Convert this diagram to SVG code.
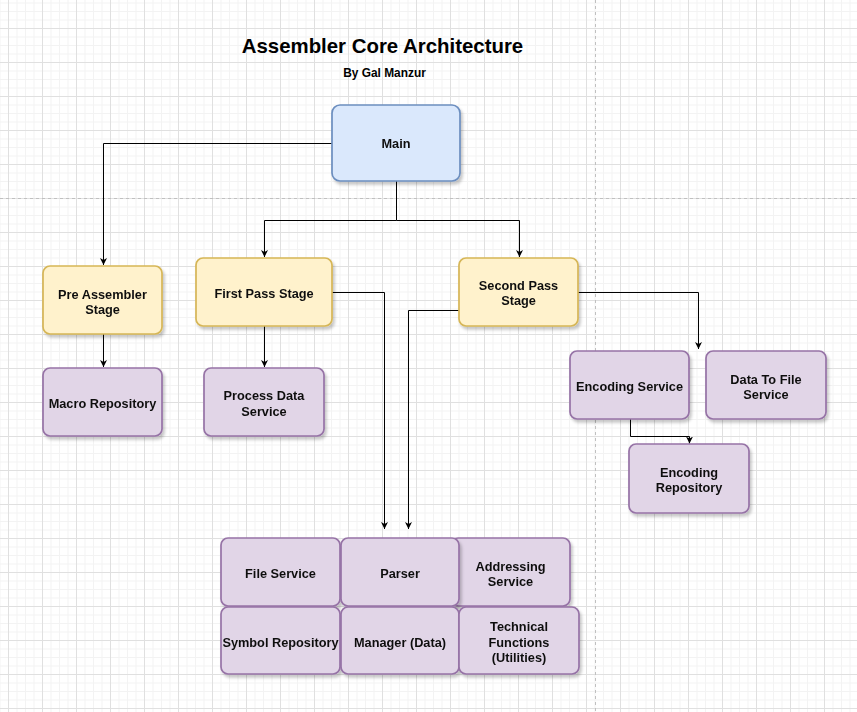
<svg xmlns="http://www.w3.org/2000/svg" width="857" height="712" viewBox="0 0 857 712">
<defs>
<pattern id="grid" patternUnits="userSpaceOnUse" x="8" y="28" width="34" height="34">
<rect x="0" y="0" width="34" height="34" fill="#ffffff"/>
<rect x="8.5" y="0" width="1" height="34" fill="#f3f3f3"/>
<rect x="17" y="0" width="1" height="34" fill="#f3f3f3"/>
<rect x="25.5" y="0" width="1" height="34" fill="#f3f3f3"/>
<rect x="0" y="8.5" width="34" height="1" fill="#f3f3f3"/>
<rect x="0" y="17" width="34" height="1" fill="#f3f3f3"/>
<rect x="0" y="25.5" width="34" height="1" fill="#f3f3f3"/>
<rect x="0" y="0" width="1" height="34" fill="#e0e0e0"/>
<rect x="0" y="0" width="34" height="1" fill="#e0e0e0"/>
</pattern>
<filter id="sh" x="-10%" y="-10%" width="130%" height="140%">
<feDropShadow dx="2" dy="3" stdDeviation="1.5" flood-color="#000" flood-opacity="0.22"/>
</filter>
<marker id="arr" markerWidth="8" markerHeight="8" refX="7" refY="4" orient="auto" markerUnits="userSpaceOnUse">
<path d="M0,0.5 L7,4 L0,7.5 L2,4 Z" fill="#000"/>
</marker>
<style>
.t{font-family:"Liberation Sans",Arial,sans-serif;font-weight:bold;font-size:12.75px;fill:#111;text-anchor:middle}
.blue{fill:#dae8fc;stroke:#6c8ebf;stroke-width:1.7}
.yel{fill:#fff2cc;stroke:#d6b656;stroke-width:1.7}
.pur{fill:#e1d5e7;stroke:#9673a6;stroke-width:1.7}
.c{fill:none;stroke:#000;stroke-width:1}
.pb{stroke:#c0c0c0;stroke-width:1;stroke-dasharray:3 3}
</style>
</defs>
<rect x="0" y="0" width="857" height="712" fill="url(#grid)"/>
<line class="pb" x1="595.5" y1="0" x2="595.5" y2="712"/>
<line class="pb" x1="0" y1="198.5" x2="857" y2="198.5"/>

<g id="title">
<text x="382.5" y="53" style="font-family:'Liberation Sans',Arial,sans-serif;font-weight:bold;font-size:20.4px;fill:#000;text-anchor:middle">Assembler Core Architecture</text>
<text x="384.5" y="77" style="font-family:'Liberation Sans',Arial,sans-serif;font-weight:bold;font-size:11.9px;fill:#000;text-anchor:middle">By Gal Manzur</text>
</g>

<g id="connectors">
<path class="c" d="M332,143.5 H103.5 V265" marker-end="url(#arr)"/>
<path class="c" d="M396.5,181 V220.5 H264.5 V257" marker-end="url(#arr)"/>
<path class="c" d="M396.5,220.5 H519.5 V257" marker-end="url(#arr)"/>
<path class="c" d="M103.5,334 V367" marker-end="url(#arr)"/>
<path class="c" d="M264.5,326 V367" marker-end="url(#arr)"/>
<path class="c" d="M332,292.5 H384.5 V529" marker-end="url(#arr)"/>
<path class="c" d="M459,310.5 H408.5 V529" marker-end="url(#arr)"/>
<path class="c" d="M578,292.5 H698.5 V349" marker-end="url(#arr)"/>
<path class="c" d="M630.5,419 V436.5 H689.5 V443.5" marker-end="url(#arr)"/>
</g>

<g id="main" filter="url(#sh)">
<rect class="blue" x="332" y="105" width="128" height="76" rx="8"/>
<text class="t" x="396" y="148">Main</text>
</g>
<g id="pre-assembler" filter="url(#sh)">
<rect class="yel" x="43" y="266" width="119" height="68" rx="7"/>
<text class="t" x="102.5" y="298.5">Pre Assembler</text>
<text class="t" x="102.5" y="314">Stage</text>
</g>
<g id="first-pass" filter="url(#sh)">
<rect class="yel" x="196" y="258" width="136" height="68" rx="7"/>
<text class="t" x="264" y="297.5">First Pass Stage</text>
</g>
<g id="second-pass" filter="url(#sh)">
<rect class="yel" x="459" y="258" width="119" height="68" rx="7"/>
<text class="t" x="518.5" y="289.5">Second Pass</text>
<text class="t" x="518.5" y="305">Stage</text>
</g>
<g id="macro-repository" filter="url(#sh)">
<rect class="pur" x="43" y="368" width="119" height="68" rx="7"/>
<text class="t" x="102.5" y="407.5">Macro Repository</text>
</g>
<g id="process-data" filter="url(#sh)">
<rect class="pur" x="204" y="368" width="120" height="68" rx="7"/>
<text class="t" x="264" y="400">Process Data</text>
<text class="t" x="264" y="415.5">Service</text>
</g>
<g id="encoding-service" filter="url(#sh)">
<rect class="pur" x="570" y="351" width="119" height="68" rx="7"/>
<text class="t" x="629.5" y="391">Encoding Service</text>
</g>
<g id="data-to-file" filter="url(#sh)">
<rect class="pur" x="706" y="351" width="120" height="68" rx="7"/>
<text class="t" x="766" y="383.5">Data To File</text>
<text class="t" x="766" y="399">Service</text>
</g>
<g id="encoding-repository" filter="url(#sh)">
<rect class="pur" x="629" y="444" width="120" height="69" rx="7"/>
<text class="t" x="689" y="476.5">Encoding</text>
<text class="t" x="689" y="492">Repository</text>
</g>
<g id="file-service" filter="url(#sh)">
<rect class="pur" x="221" y="538" width="119" height="68" rx="7"/>
<text class="t" x="280.5" y="578">File Service</text>
</g>
<g id="addressing-service" filter="url(#sh)">
<rect class="pur" x="451" y="538" width="119" height="68" rx="7"/>
<text class="t" x="510.5" y="570.5">Addressing</text>
<text class="t" x="510.5" y="586">Service</text>
</g>
<g id="parser" filter="url(#sh)">
<rect class="pur" x="341" y="538" width="118" height="68" rx="7"/>
<text class="t" x="400" y="578">Parser</text>
</g>
<g id="symbol-repository" filter="url(#sh)">
<rect class="pur" x="221" y="607" width="119" height="67" rx="7"/>
<text class="t" x="280.5" y="646.5">Symbol Repository</text>
</g>
<g id="manager-data" filter="url(#sh)">
<rect class="pur" x="341" y="607" width="118" height="67" rx="7"/>
<text class="t" x="400" y="646.5">Manager (Data)</text>
</g>
<g id="technical-functions" filter="url(#sh)">
<rect class="pur" x="459" y="607" width="120" height="67" rx="7"/>
<text class="t" x="519" y="631">Technical</text>
<text class="t" x="519" y="646.5">Functions</text>
<text class="t" x="519" y="662">(Utilities)</text>
</g>
</svg>
